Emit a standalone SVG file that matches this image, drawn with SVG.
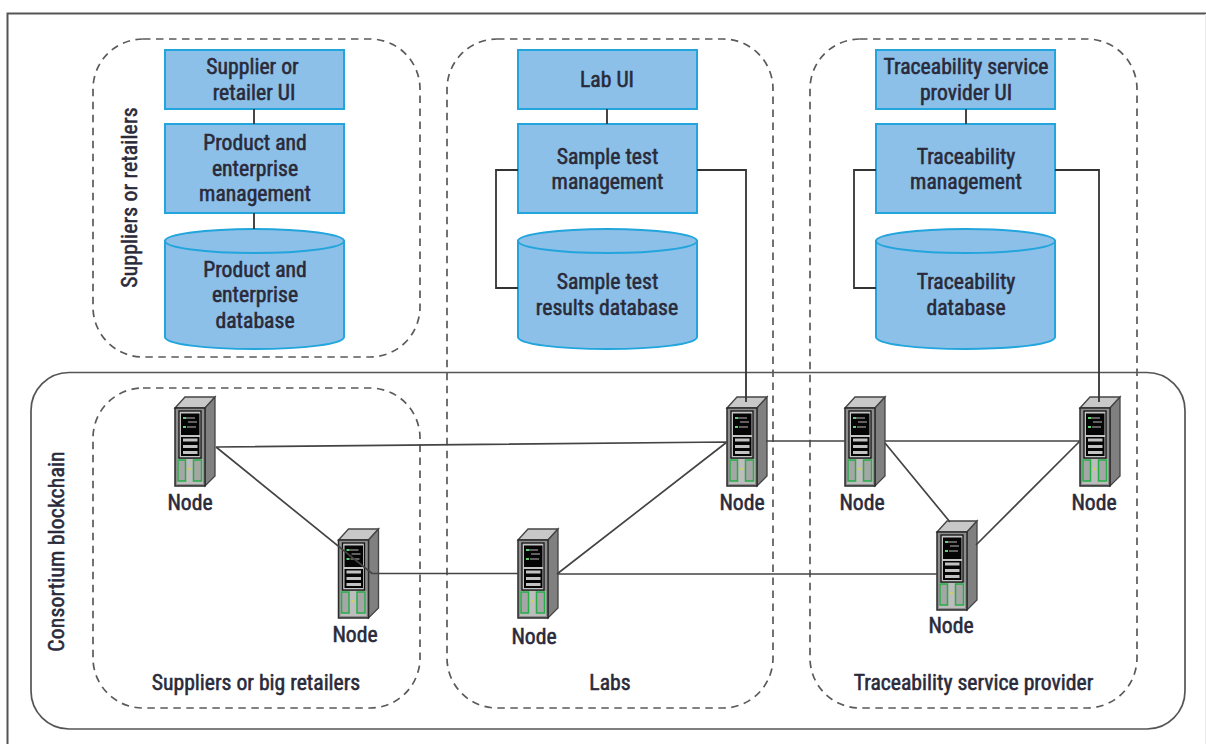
<svg xmlns="http://www.w3.org/2000/svg" width="1206" height="744" viewBox="0 0 1206 744">
<style>
text{font-family:"Liberation Sans Narrow","Roboto Condensed","Liberation Sans",sans-serif;font-size:21.700px;fill:#2a2a3a;stroke:#2a2a3a;stroke-width:.55px;text-anchor:middle}
.v{letter-spacing:.15px}
.box{fill:#8cc0e8;stroke:#22a5dc;stroke-width:2}
.dash{fill:none;stroke:#5a5a5a;stroke-width:1.700;stroke-dasharray:7.500 5.500}
.chain{fill:none;stroke:#555;stroke-width:1.700}
.c{fill:none;stroke:#333;stroke-width:1.800}
.n{fill:none;stroke:#444;stroke-width:1.700}
</style>
<defs>
<g id="server">
<path d="M0 0L10-11H40L30 0Z" fill="#c8c8c8" stroke="#444" stroke-width="1.300"/>
<path d="M30 0L40-11V68L30 78Z" fill="#808080" stroke="#444" stroke-width="1.300"/>
<rect x="0" y="0" width="30" height="78" fill="#8e8e8e" stroke="#2a2a2a" stroke-width="1.500"/>
<rect x="4" y="3" width="22" height="47" fill="#c4c4c4" stroke="#111" stroke-width="1.300"/>
<rect x="6" y="5.500" width="18.500" height="21.500" fill="#050505"/>
<rect x="6" y="29" width="18.500" height="19" fill="#050505"/>
<path d="M8 32H22.500M8 38.500H22.500M8 44.500H22.500" stroke="#c2c2c2" stroke-width="2.800"/>
<path d="M8 10H11M8 19H11" stroke="#5fd070" stroke-width="1.800"/>
<path d="M11 10H20M13 14H22M12 19H21" stroke="#bbb"/>
<rect x="2" y="51" width="26" height="25" fill="#bdbdbd"/>
<rect x="3" y="52" width="7.500" height="21" fill="#a6a6a6" stroke="#26ad48" stroke-width="1.500"/>
<rect x="18.500" y="52" width="8" height="21" fill="#a6a6a6" stroke="#26ad48" stroke-width="1.500"/>
<circle cx="14.500" cy="61" r="1.300" fill="#d8d050"/>
</g>
</defs>
<rect width="1206" height="744" fill="#fff"/>
<path d="M7.500 744V13.500H1206" fill="none" stroke="#555" stroke-width="2"/>
<path d="M1205.500 14V744" stroke="#ececec"/>

<g id="zones">
<rect id="consortium" class="chain" x="31" y="372.500" width="1154" height="356.500" rx="38"/>
<rect id="zone-suppliers" class="dash" x="93" y="39" width="327" height="318" rx="50"/>
<rect id="zone-labs" class="dash" x="447" y="39" width="326" height="669" rx="50"/>
<rect id="zone-provider" class="dash" x="810" y="39" width="327" height="669" rx="50"/>
<rect id="zone-big-retailers" class="dash" x="93" y="388" width="327" height="320" rx="50"/>
</g>

<g id="supplier-ui"><rect class="box" x="165" y="50" width="179" height="59"/><text x="252.500" y="74">Supplier or</text><text x="254" y="100">retailer UI</text></g>
<g id="product-mgmt"><rect class="box" x="165" y="124" width="179" height="89"/><text x="255" y="150">Product and</text><text x="255" y="176">enterprise</text><text x="255" y="201">management</text></g>
<g id="product-db"><path class="box" d="M165 241V337C165 344 205 349 254.500 349S344 344 344 337V241Z"/><ellipse class="box" cx="254.500" cy="241" rx="89.500" ry="12"/><text x="255" y="277">Product and</text><text x="255" y="302">enterprise</text><text x="255" y="328">database</text></g>

<g id="lab-ui"><rect class="box" x="518" y="50" width="179" height="59"/><text x="607" y="87">Lab UI</text></g>
<g id="sample-mgmt"><rect class="box" x="518" y="124" width="179" height="89"/><text x="607.500" y="164">Sample test</text><text x="607.500" y="189">management</text></g>
<g id="sample-db"><path class="box" d="M518 241V337C518 344 558 349 607.500 349S697 344 697 337V241Z"/><ellipse class="box" cx="607.500" cy="241" rx="89.500" ry="12"/><text x="607.500" y="289">Sample test</text><text x="607" y="315">results database</text></g>

<g id="trace-ui"><rect class="box" x="876" y="50" width="179" height="59"/><text x="966" y="74">Traceability service</text><text x="966" y="100">provider UI</text></g>
<g id="trace-mgmt"><rect class="box" x="876" y="124" width="179" height="89"/><text x="966" y="164">Traceability</text><text x="966" y="189">management</text></g>
<g id="trace-db"><path class="box" d="M876 241V337C876 344 916 349 965.500 349S1055 344 1055 337V241Z"/><ellipse class="box" cx="965.500" cy="241" rx="89.500" ry="12"/><text x="966" y="289">Traceability</text><text x="966" y="315">database</text></g>

<g id="node-1"><use href="#server" x="175" y="408"/><text x="190" y="510">Node</text></g>
<g id="node-2"><use href="#server" x="338.500" y="540"/><text x="355" y="642">Node</text></g>
<g id="node-3"><use href="#server" x="518" y="540"/><text x="534" y="644">Node</text></g>
<g id="node-4"><use href="#server" x="727" y="408"/><text x="742" y="510">Node</text></g>
<g id="node-5"><use href="#server" x="845" y="408"/><text x="862" y="510">Node</text></g>
<g id="node-6"><use href="#server" x="937" y="532"/><text x="951" y="633">Node</text></g>
<g id="node-7"><use href="#server" x="1080" y="408"/><text x="1094" y="510">Node</text></g>

<g id="connectors">
<path class="c" d="M254 109V124M254 213V229M607 109V124M966 109V124"/>
<path class="c" d="M697 170H746V402M1055 170H1099V402"/>
<path class="c" d="M518 170H496V288H518M876 170H854V288H876"/>
<path class="n" d="M216 447L372 573.500H518M216 447L727 442M557 574L727 442M557 574H937M766 441H845M885 441H1080M885 443L950 522M976 545L1080 441"/>
</g>

<g id="labels">
<text x="256" y="690">Suppliers or big retailers</text>
<text x="610" y="690">Labs</text>
<text x="973.500" y="690">Traceability service provider</text>
<text class="v" transform="translate(137 197.500) rotate(-90)">Suppliers or retailers</text>
<text class="v" transform="translate(64 551.500) rotate(-90)">Consortium blockchain</text>
</g>
</svg>
